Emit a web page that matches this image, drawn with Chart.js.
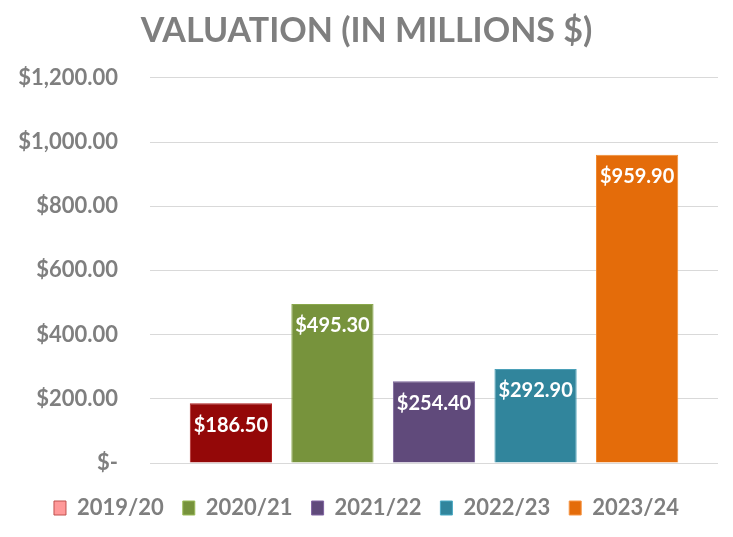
<!DOCTYPE html>
<html lang="en">
  <head>
    <meta charset="UTF-8" />
    <title>Valuation</title>
    <style>
      html, body { margin: 0; padding: 0; background: #fff; }
      #wrap { width: 733px; height: 537px; }
    </style>
  </head>
  <body>
    <div id="wrap"><canvas id="bar"></canvas></div>

    <script src="https://cdn.jsdelivr.net/npm/chart.js@4.4.1/dist/chart.umd.min.js"></script>
    <script>
      // data
      const years = ["2019/20", "2020/21", "2021/22", "2022/23", "2023/24"];
      const valuation = [186.5, 495.3, 254.4, 292.9, 959.9];
      const yTicks = [0, 200, 400, 600, 800, 1000, 1200];

      const barColors = ["#940808", "#77933C", "#604A7B", "#31859C", "#E46C0A"];
      const barBorders = ["#B02020", "#8AA84C", "#7A649A", "#4BA0B8", "#F08A30"];
      const legendFill = ["#FF9999", "#77933C", "#604A7B", "#31859C", "#E46C0A"];
      const legendBorder = ["#C0504D", "#9BBB59", "#8064A2", "#4BACC6", "#F79646"];

      const fontFam = "Lato, 'Open Sans', sans-serif";
      const grey = "#7F7F7F";

      const money = (v) =>
        v === 0
          ? "$-"
          : "$" + v.toLocaleString("en-US", { minimumFractionDigits: 2, maximumFractionDigits: 2 });

      // one dataset per year, all in a single category
      const datasets = years.map((y, i) => ({
        label: y,
        data: [valuation[i]],
        backgroundColor: barColors[i],
        borderColor: barBorders[i],
        borderWidth: 1,
        categoryPercentage: 0.894,
        barPercentage: 0.81,
      }));

      // white value labels near the top inside each bar
      const valueLabels = {
        id: "valueLabels",
        afterDatasetsDraw(chart) {
          const ctx = chart.ctx;
          ctx.save();
          ctx.fillStyle = "#fff";
          ctx.font = "bold 20px " + fontFam;
          ctx.textAlign = "center";
          ctx.textBaseline = "middle";
          chart.data.datasets.forEach((ds, i) => {
            const el = chart.getDatasetMeta(i).data[0];
            ctx.fillText(money(ds.data[0]), el.x, el.y + 22);
          });
          ctx.restore();
        },
      };

      const barChart = new Chart(document.getElementById("bar"), {
        type: "bar",
        data: { labels: [""], datasets: datasets },
        plugins: [valueLabels],
        options: {
          responsive: true,
          maintainAspectRatio: false,
          animation: false,
          layout: { padding: { left: 0, right: 0, top: 4, bottom: 8 } },
          plugins: {
            title: {
              display: true,
              text: "VALUATION (IN MILLIONS $)",
              color: grey,
              font: { family: fontFam, size: 34, weight: "bold" },
              padding: { top: 7, bottom: 26 },
            },
            legend: {
              position: "bottom",
              labels: {
                color: grey,
                font: { family: fontFam, size: 22, weight: "bold" },
                boxWidth: 12,
                boxHeight: 14,
                padding: 19,
                generateLabels(chart) {
                  return chart.data.datasets.map((ds, i) => ({
                    text: ds.label,
                    fillStyle: legendFill[i],
                    strokeStyle: legendBorder[i],
                    lineWidth: 1,
                    fontColor: grey,
                    datasetIndex: i,
                  }));
                },
              },
            },
            tooltip: { enabled: false },
          },
          scales: {
            x: {
              grid: { display: false },
              border: { display: false },
              ticks: { display: false },
              afterFit(axis) {
                axis.height = 15;
              },
            },
            y: {
              min: 0,
              max: 1200,
              afterBuildTicks(axis) {
                axis.ticks = yTicks.map((v) => ({ value: v }));
              },
              afterFit(axis) {
                axis.width = 150;
              },
              grid: { color: "#D9D9D9", lineWidth: 1, drawTicks: false },
              border: { display: false },
              ticks: {
                color: grey,
                padding: 32,
                font: { family: fontFam, size: 22, weight: "bold" },
                callback: (v) => money(v),
              },
            },
            // empty right margin so title and legend centre on the whole canvas
            yRight: {
              position: "right",
              grid: { display: false },
              border: { display: false },
              ticks: { display: false },
              afterFit(axis) {
                axis.width = 15;
              },
            },
          },
        },
      });
    </script>
  </body>
</html>
